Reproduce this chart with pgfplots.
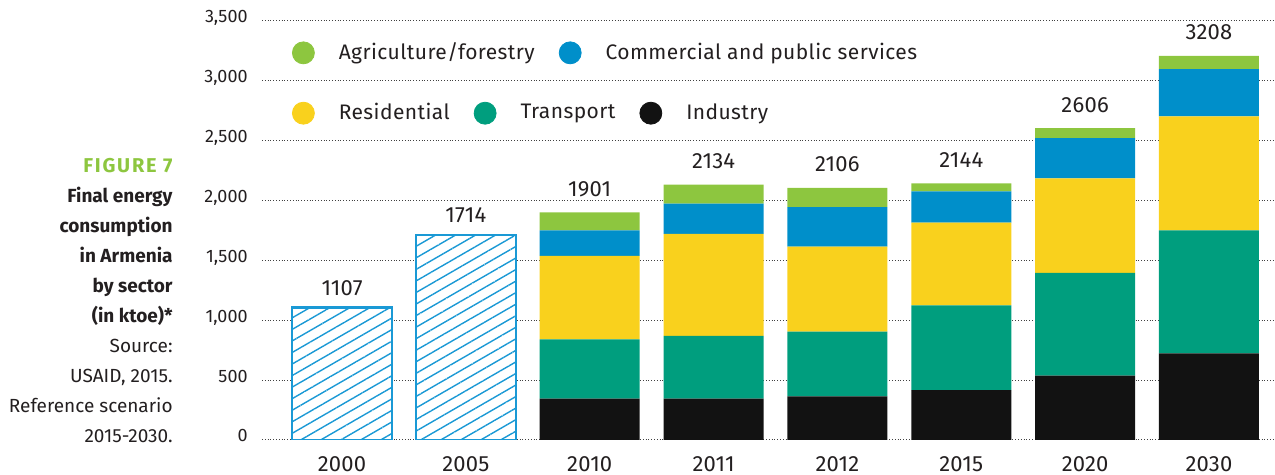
\documentclass[border=0pt]{standalone}
\usepackage{fontspec}
\setmainfont{Fira Sans}
\usepackage{pgfplots}
\pgfplotsset{compat=1.18}
\usetikzlibrary{patterns.meta}
\definecolor{agri}{RGB}{141,198,63}
\definecolor{comm}{RGB}{0,143,202}
\definecolor{resid}{RGB}{249,209,29}
\definecolor{trans}{RGB}{0,158,126}
\definecolor{ind}{RGB}{18,18,18}
\definecolor{hatch}{RGB}{26,153,213}
\definecolor{txt}{RGB}{35,31,32}
\definecolor{figgreen}{RGB}{141,198,63}
\pgfplotsset{
  common/.style={
    at={(131pt,17.5pt)}, anchor=south west,
    scale only axis, width=506.5pt, height=209.5pt,
    xmin=-0.646, xmax=7.533, ymin=0, ymax=3500,
    bar width=50pt,
    legend columns=-1,
    legend style={draw=none, fill=none, inner sep=0pt, outer sep=0pt,
      font=\fontsize{10.5}{12}\selectfont\addfontfeature{LetterSpace=2}, text=txt,
      nodes={inner sep=0pt},
      /tikz/every even column/.append style={column sep=12pt},
      /tikz/every odd column/.append style={column sep=12pt}},
  },
  dot/.style={legend image code/.code={\fill[#1] (5.5pt,0pt) circle[radius=5.5pt];}},
}
\begin{document}
\begin{tikzpicture}
\begin{axis}[common,
  ybar stacked,
  axis line style={draw=none}, major tick length=0pt,
  ytick={0,500,...,3500}, scaled y ticks=false,
  ymajorgrids, grid style={densely dotted, line width=0.5pt, black!75},
  xtick={0,...,7}, xticklabels={2000,2005,2010,2011,2012,2015,2020,2030},
  xticklabel style={font=\fontsize{11}{12}\selectfont\addfontfeature{LetterSpace=1}, text=txt, anchor=base, yshift=-16pt},
  yticklabel style={font=\fontsize{9}{10}\selectfont, text=txt, anchor=base east, inner sep=0pt, xshift=-7pt, yshift=-1pt,
    /pgf/number format/.cd, 1000 sep={,}, assume math mode=true},
  legend style={at={(0.0296,0.780)}, anchor=west},
]
\addlegendimage{dot=resid}\addlegendentry{Residential}
\addlegendimage{dot=trans}\addlegendentry{Transport}
\addlegendimage{dot=ind}\addlegendentry{Industry}
\addplot[fill=ind, draw=none] coordinates {(2,345) (3,346) (4,364) (5,416) (6,538) (7,724)};
\addplot[fill=trans, draw=none] coordinates {(2,496) (3,523) (4,541) (5,709) (6,857) (7,1027)};
\addplot[fill=resid, draw=none] coordinates {(2,698) (3,852) (4,710) (5,690) (6,791) (7,952)};
\addplot[fill=comm, draw=none] coordinates {(2,211) (3,253) (4,330) (5,261) (6,336) (7,396)};
\addplot[fill=agri, draw=none] coordinates {(2,151) (3,160) (4,161) (5,68) (6,84) (7,109)};
\end{axis}
\begin{axis}[common, hide axis, ybar,
  legend style={at={(0.0296,0.924)}, anchor=west},
]
\addlegendimage{dot=agri}\addlegendentry{Agriculture/forestry}
\addlegendimage{dot=comm}\addlegendentry{Commercial and public services}
\addplot[bar shift=0pt, draw=hatch, line width=1.2pt, fill=white,
  postaction={pattern={Lines[angle=30,distance=5pt,line width=0.7pt]}, pattern color=hatch}]
  coordinates {(0,1107) (1,1714)};
\addplot[bar shift=0pt, draw=none, fill=none, nodes near coords, point meta=explicit symbolic,
  nodes near coords style={anchor=base, yshift=6pt, font=\fontsize{11}{12}\selectfont\addfontfeature{LetterSpace=1}, text=txt}]
  coordinates {(0,1107)[1107] (1,1714)[1714]};
\addplot[bar shift=0pt, draw=none, fill=none, nodes near coords, point meta=explicit symbolic,
  nodes near coords style={anchor=base, yshift=8pt, font=\fontsize{11}{12}\selectfont\addfontfeature{LetterSpace=1}, text=txt}]
  coordinates {(2,1901)[1901] (3,2134)[2134] (4,2106)[2106] (5,2144)[2144] (6,2606)[2606] (7,3208)[3208]};
\end{axis}
\node[anchor=north east, align=right, inner sep=0pt, font=\fontsize{9.5}{15}\selectfont, text=txt]
  at (86.5pt,158.5pt)
  {{\fontsize{10}{15}\selectfont\color{figgreen}\bfseries\addfontfeature{LetterSpace=9}FIGURE 7}\\
   \textbf{Final energy}\\ \textbf{consumption}\\ \textbf{in Armenia}\\ \textbf{by sector}\\
   \textbf{(in ktoe)*}\\ Source:\\ USAID, 2015.\\ Reference scenario\\ 2015-2030.};
\pgfresetboundingbox
\path[use as bounding box] (0,0) rectangle (637.5pt,237.5pt);
\end{tikzpicture}
\end{document}
